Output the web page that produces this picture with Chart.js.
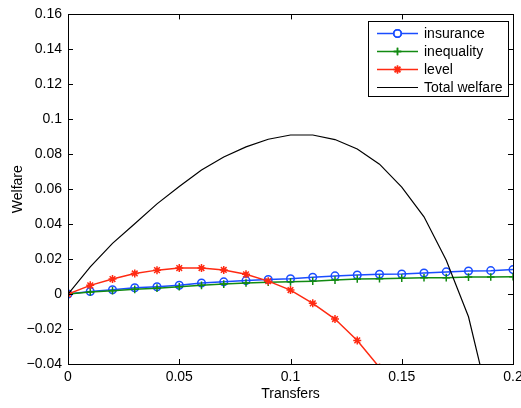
<!DOCTYPE html>
<html>
<head>
<meta charset="utf-8">
<script src="https://cdn.jsdelivr.net/npm/chart.js@4/dist/chart.umd.min.js"></script>
<style>
  html, body { margin: 0; padding: 0; background: #fff; }
  canvas { display: block; }
</style>
</head>
<body>
<canvas id="welfare" width="521" height="408"></canvas>
<script>
// data
const transfers = [0, 0.01, 0.02, 0.03, 0.04, 0.05, 0.06, 0.07, 0.08, 0.09, 0.10,
                   0.11, 0.12, 0.13, 0.14, 0.15, 0.16, 0.17, 0.18, 0.19, 0.20];
const insurance = [0, 0.0015, 0.0025, 0.0036, 0.0042, 0.0050, 0.0063, 0.0070, 0.0077, 0.0083, 0.0088,
                   0.0096, 0.0104, 0.0109, 0.0113, 0.0115, 0.0121, 0.0127, 0.0132, 0.0134, 0.0140];
const inequality = [0, 0.0012, 0.0019, 0.0027, 0.0034, 0.0042, 0.0050, 0.0057, 0.0063, 0.0068, 0.0070,
                    0.0074, 0.0080, 0.0086, 0.0088, 0.0091, 0.0093, 0.0094, 0.0097, 0.0098, 0.0099];
const level = [0, 0.0050, 0.0086, 0.0118, 0.0137, 0.0149, 0.0149, 0.0138, 0.0113, 0.0074, 0.0023,
               -0.0053, -0.0143, -0.0265, -0.0420, -0.061, -0.083, -0.109, -0.139, -0.173, -0.211];
const totalWelfare = [0, 0.0156, 0.0290, 0.0402, 0.0516, 0.0616, 0.0710, 0.0784, 0.0842, 0.0886, 0.0910,
                      0.0910, 0.0884, 0.0830, 0.0743, 0.0612, 0.0442, 0.0194, -0.0130, -0.066, -0.130];

const xTicks = [0, 0.05, 0.1, 0.15, 0.2];
const xTickLabels = ['0', '0.05', '0.1', '0.15', '0.2'];
const yTicks = [-0.04, -0.02, 0, 0.02, 0.04, 0.06, 0.08, 0.1, 0.12, 0.14, 0.16];
const yTickLabels = ['\u22120.04', '\u22120.02', '0', '0.02', '0.04', '0.06', '0.08', '0.1', '0.12', '0.14', '0.16'];

const FONT = '"Liberation Sans", Arial, Helvetica, sans-serif';

function pts(ys) {
    return transfers.map((x, i) => ({ x: x, y: ys[i] }));
}

// box frame with inward ticks, matlab style
const frameTicks = {
    id: 'frameTicks',
    afterDraw(chart) {
        const { ctx, chartArea: a, scales: { x, y } } = chart;
        const len = 5;
        ctx.save();
        ctx.strokeStyle = '#000';
        ctx.lineWidth = 1;
        ctx.beginPath();
        xTicks.forEach(v => {
            const px = Math.round(x.getPixelForValue(v)) + 0.5;
            ctx.moveTo(px, a.bottom); ctx.lineTo(px, a.bottom - len);
            ctx.moveTo(px, a.top); ctx.lineTo(px, a.top + len);
        });
        yTicks.forEach(v => {
            const py = Math.round(y.getPixelForValue(v)) + 0.5;
            ctx.moveTo(a.left, py); ctx.lineTo(a.left + len, py);
            ctx.moveTo(a.right, py); ctx.lineTo(a.right - len, py);
        });
        ctx.stroke();
        ctx.strokeRect(Math.round(a.left) + 0.5, Math.round(a.top) + 0.5,
                       Math.round(a.right - a.left), Math.round(a.bottom - a.top));
        ctx.restore();
    }
};

// legend box inside the axes, top right
const boxLegend = {
    id: 'boxLegend',
    afterDraw(chart) {
        const { ctx, chartArea: a } = chart;
        const right = a.right - 5, top = a.top + 7;
        const w = 140, rowH = 18, h = 75;
        const left = right - w;
        ctx.save();
        ctx.fillStyle = '#fff';
        ctx.fillRect(left, top, w, h);
        ctx.strokeStyle = '#000';
        ctx.lineWidth = 1;
        ctx.strokeRect(Math.round(left) + 0.5, Math.round(top) + 0.5, w, h);
        ctx.font = '14px ' + FONT;
        ctx.textBaseline = 'middle';
        chart.data.datasets.forEach((ds, i) => {
            const cy = Math.round(top + 11.5 + i * rowH) + 0.5;
            ctx.strokeStyle = ds.borderColor;
            ctx.lineWidth = ds.borderWidth;
            ctx.beginPath();
            ctx.moveTo(left + 9, cy); ctx.lineTo(left + 50, cy);
            ctx.stroke();
            if (ds.pointRadius > 0) {
                Chart.helpers.drawPoint(ctx, {
                    pointStyle: ds.pointStyle, radius: ds.pointRadius,
                    borderWidth: ds.pointBorderWidth, rotation: 0
                }, left + 29.5, cy);
                ctx.strokeStyle = ds.borderColor;
                ctx.lineWidth = ds.pointBorderWidth;
                ctx.stroke();
            }
            ctx.fillStyle = '#000';
            ctx.fillText(ds.label, left + 56, cy + 1);
        });
        ctx.restore();
    }
};

const blue = '#1a4dff', green = '#128a12', red = '#ff2a12';

new Chart(document.getElementById('welfare'), {
    type: 'line',
    data: {
        datasets: [
            { label: 'insurance', data: pts(insurance), borderColor: blue, backgroundColor: 'transparent',
              borderWidth: 1.5, pointStyle: 'circle', pointRadius: 3.8, pointBorderWidth: 1.5,
              pointBackgroundColor: 'transparent', pointBorderColor: blue, order: 4 },
            { label: 'inequality', data: pts(inequality), borderColor: green, backgroundColor: 'transparent',
              borderWidth: 1.5, pointStyle: 'cross', pointRadius: 3.8, pointBorderWidth: 1.5,
              pointBorderColor: green, order: 3 },
            { label: 'level', data: pts(level), borderColor: red, backgroundColor: 'transparent',
              borderWidth: 1.5, pointStyle: 'star', pointRadius: 4, pointBorderWidth: 1.5,
              pointBorderColor: red, order: 2 },
            { label: 'Total welfare', data: pts(totalWelfare), borderColor: '#000', backgroundColor: 'transparent',
              borderWidth: 1.2, pointRadius: 0, order: 1 }
        ]
    },
    options: {
        responsive: false,
        animation: false,
        events: [],
        layout: { padding: { top: 14, right: 8, left: 0, bottom: 0 } },
        plugins: { legend: { display: false }, tooltip: { enabled: false } },
        elements: { line: { tension: 0 } },
        scales: {
            x: {
                type: 'linear', min: 0, max: 0.2,
                grid: { display: false, drawTicks: false },
                border: { display: false },
                afterBuildTicks: s => { s.ticks = xTicks.map(v => ({ value: v })); },
                afterFit: s => { s.height = 44; s.paddingLeft = 0; s.paddingRight = 0; },
                ticks: {
                    color: '#000', padding: 5, maxRotation: 0, autoSkip: false,
                    font: { family: FONT, size: 14 },
                    callback: (v, i) => xTickLabels[i]
                },
                title: { display: true, text: 'Transfers', color: '#000',
                         font: { family: FONT, size: 14 }, padding: { top: 0, bottom: 5 } }
            },
            y: {
                type: 'linear', min: -0.04, max: 0.16,
                grid: { display: false, drawTicks: false },
                border: { display: false },
                afterBuildTicks: s => { s.ticks = yTicks.map(v => ({ value: v })); },
                afterFit: s => { s.width = 68; },
                ticks: {
                    color: '#000', padding: 6, autoSkip: false,
                    font: { family: FONT, size: 14 },
                    callback: (v, i) => yTickLabels[i]
                },
                title: { display: true, text: 'Welfare', color: '#000',
                         font: { family: FONT, size: 14 }, padding: { top: 10, bottom: 0 } }
            }
        }
    },
    plugins: [frameTicks, boxLegend]
});
</script>
</body>
</html>
